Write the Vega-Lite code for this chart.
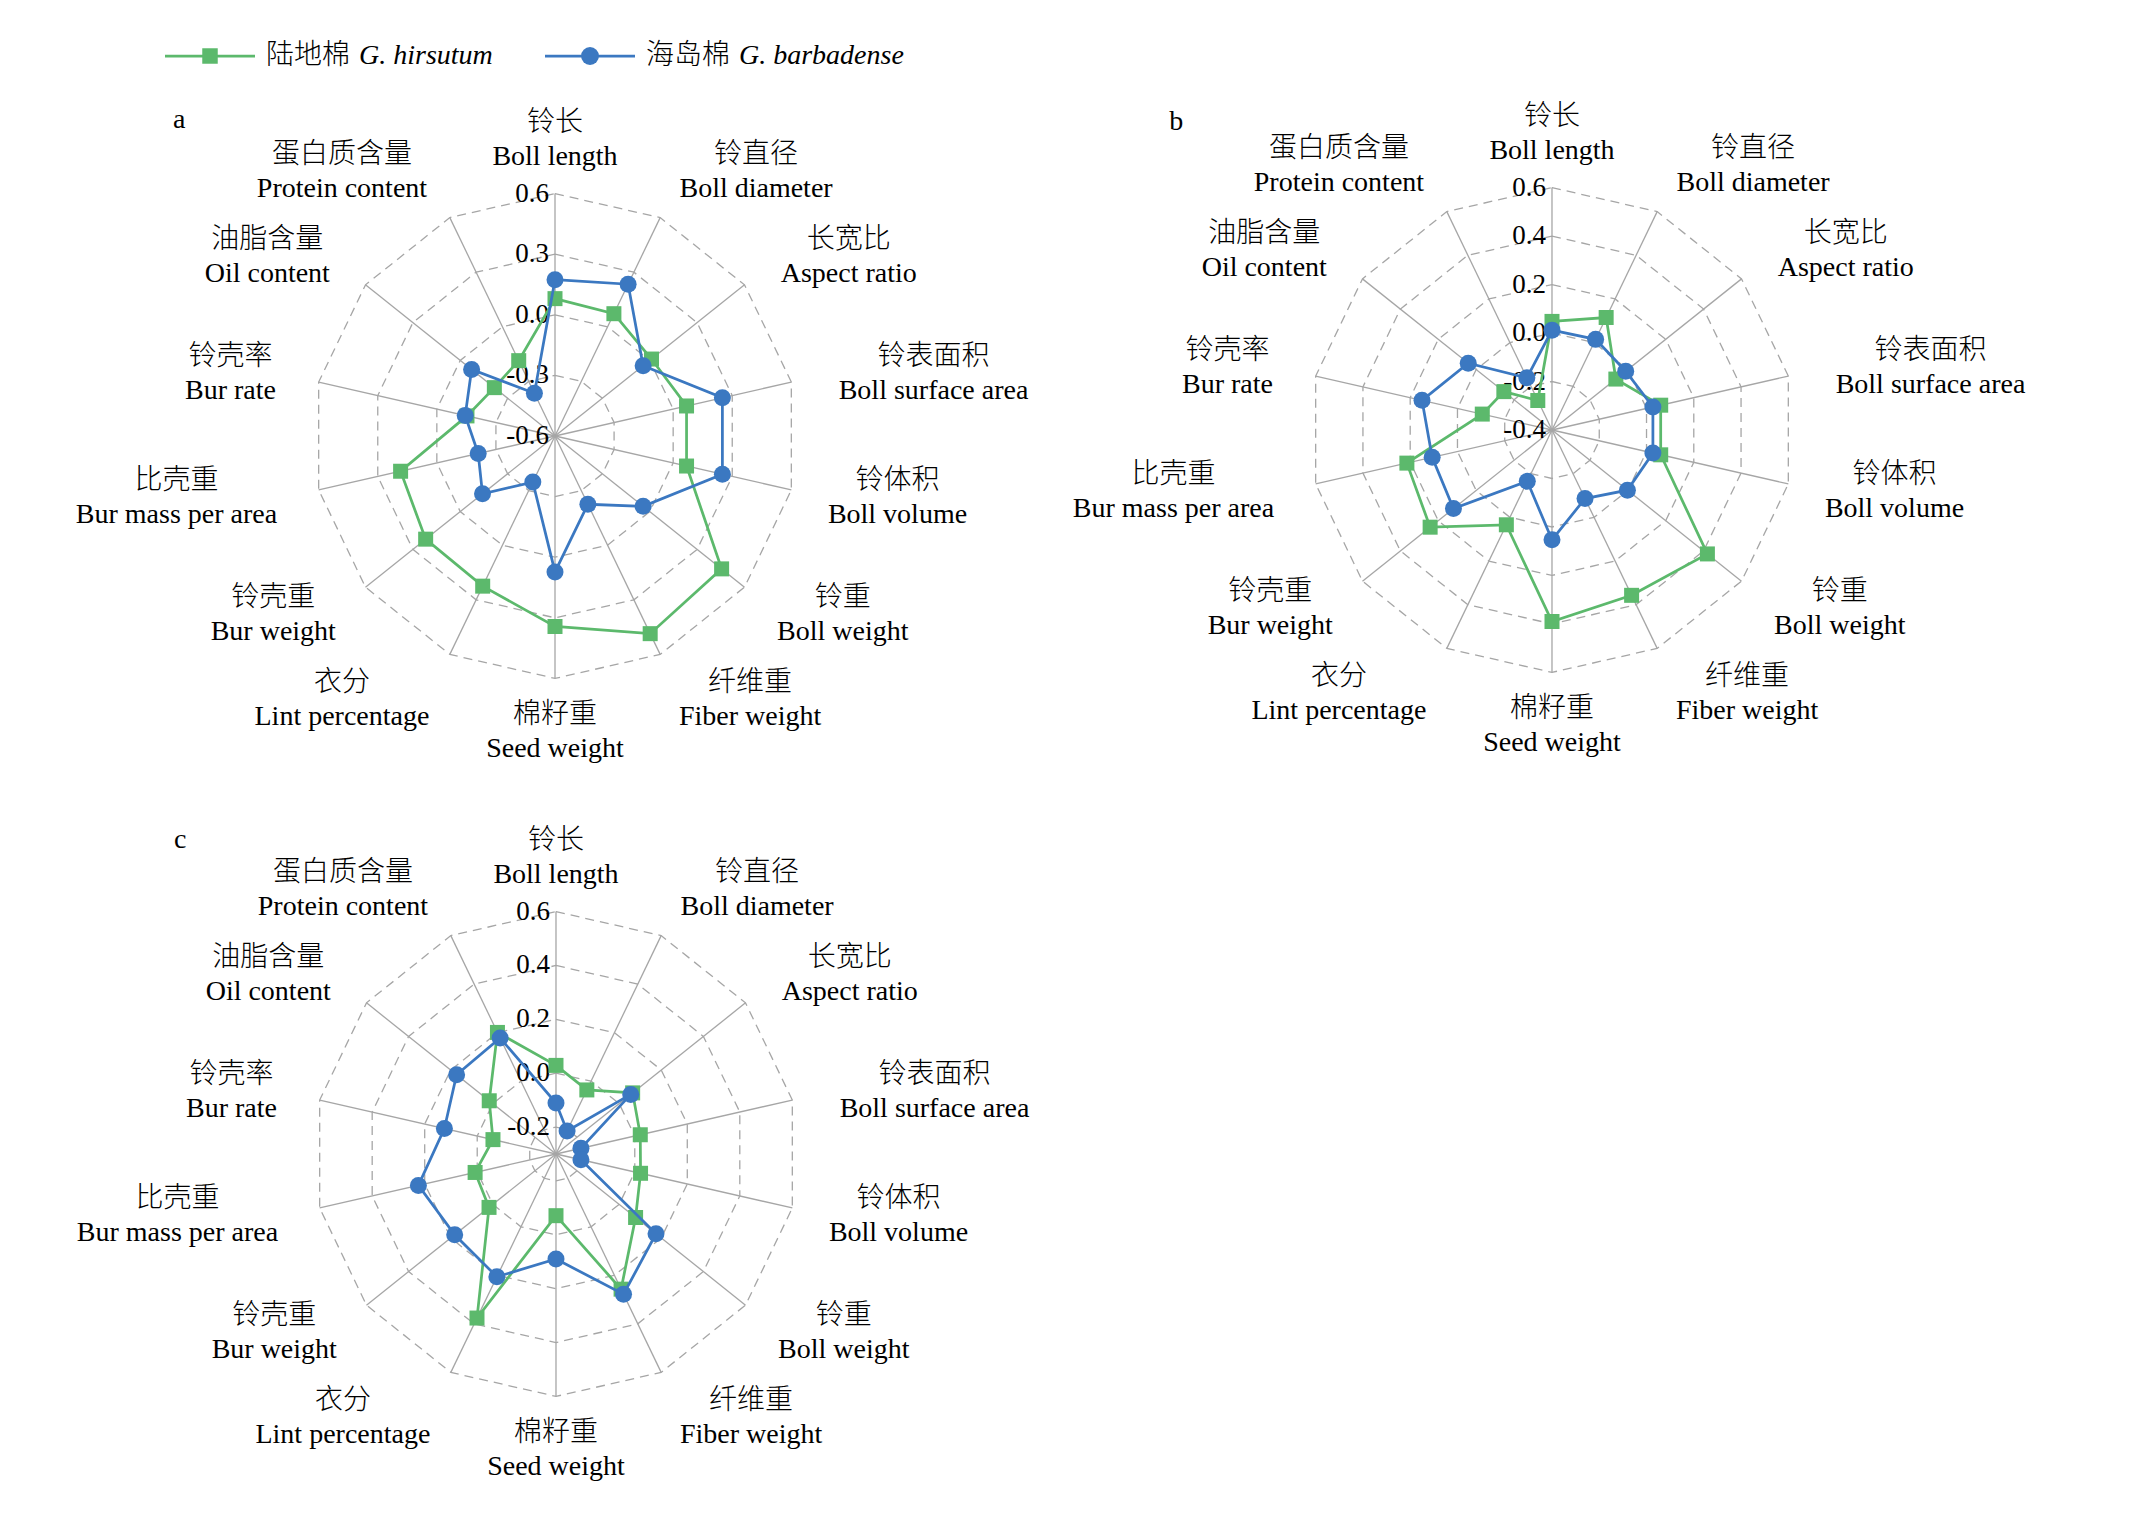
{
  "$schema": "https://vega.github.io/schema/vega-lite/v6.json",
  "padding": {"left": 55, "top": 36, "right": 89, "bottom": 4},
  "background": "white",
  "config": {"view": {"stroke": null}},
  "spacing": 0,
  "datasets": {
    "axes": [
      {"i": 0, "cn": "铃长", "en": "Boll length"},
      {"i": 1, "cn": "铃直径", "en": "Boll diameter"},
      {"i": 2, "cn": "长宽比", "en": "Aspect ratio"},
      {"i": 3, "cn": "铃表面积", "en": "Boll surface area"},
      {"i": 4, "cn": "铃体积", "en": "Boll volume"},
      {"i": 5, "cn": "铃重", "en": "Boll weight"},
      {"i": 6, "cn": "纤维重", "en": "Fiber weight"},
      {"i": 7, "cn": "棉籽重", "en": "Seed weight"},
      {"i": 8, "cn": "衣分", "en": "Lint percentage"},
      {"i": 9, "cn": "铃壳重", "en": "Bur weight"},
      {"i": 10, "cn": "比壳重", "en": "Bur mass per area"},
      {"i": 11, "cn": "铃壳率", "en": "Bur rate"},
      {"i": 12, "cn": "油脂含量", "en": "Oil content"},
      {"i": 13, "cn": "蛋白质含量", "en": "Protein content"}
    ],
    "panels": [
      {"panel": "a", "lo": -0.6, "hi": 0.6, "letter": "a"},
      {"panel": "b", "lo": -0.4, "hi": 0.6, "letter": "b"},
      {"panel": "c", "lo": -0.3, "hi": 0.6, "letter": "c"}
    ],
    "ticks": [
      {"panel": "a", "level": 0.6, "label": "0.6"},
      {"panel": "a", "level": 0.3, "label": "0.3"},
      {"panel": "a", "level": 0.0, "label": "0.0"},
      {"panel": "a", "level": -0.3, "label": "-0.3"},
      {"panel": "a", "level": -0.6, "label": "-0.6"},
      {"panel": "b", "level": 0.6, "label": "0.6"},
      {"panel": "b", "level": 0.4, "label": "0.4"},
      {"panel": "b", "level": 0.2, "label": "0.2"},
      {"panel": "b", "level": 0.0, "label": "0.0"},
      {"panel": "b", "level": -0.2, "label": "-0.2"},
      {"panel": "b", "level": -0.4, "label": "-0.4"},
      {"panel": "c", "level": 0.6, "label": "0.6"},
      {"panel": "c", "level": 0.4, "label": "0.4"},
      {"panel": "c", "level": 0.2, "label": "0.2"},
      {"panel": "c", "level": 0.0, "label": "0.0"},
      {"panel": "c", "level": -0.2, "label": "-0.2"}
    ],
    "legend": [
      {"series": "hirsutum", "cn": "陆地棉", "la": "G. hirsutum"},
      {"series": "barbadense", "cn": "海岛棉", "la": "G. barbadense"}
    ],
    "vals": [
      {"panel": "a", "series": "hirsutum", "i": 0, "v": 0.08},
      {"panel": "a", "series": "hirsutum", "i": 1, "v": 0.072},
      {"panel": "a", "series": "hirsutum", "i": 2, "v": 0.011},
      {"panel": "a", "series": "hirsutum", "i": 3, "v": 0.068},
      {"panel": "a", "series": "hirsutum", "i": 4, "v": 0.068},
      {"panel": "a", "series": "hirsutum", "i": 5, "v": 0.455},
      {"panel": "a", "series": "hirsutum", "i": 6, "v": 0.486},
      {"panel": "a", "series": "hirsutum", "i": 7, "v": 0.343},
      {"panel": "a", "series": "hirsutum", "i": 8, "v": 0.225},
      {"panel": "a", "series": "hirsutum", "i": 9, "v": 0.219},
      {"panel": "a", "series": "hirsutum", "i": 10, "v": 0.184},
      {"panel": "a", "series": "hirsutum", "i": 11, "v": -0.153},
      {"panel": "a", "series": "hirsutum", "i": 12, "v": -0.216},
      {"panel": "a", "series": "hirsutum", "i": 13, "v": -0.186},
      {"panel": "a", "series": "barbadense", "i": 0, "v": 0.174},
      {"panel": "a", "series": "barbadense", "i": 1, "v": 0.234},
      {"panel": "a", "series": "barbadense", "i": 2, "v": -0.042},
      {"panel": "a", "series": "barbadense", "i": 3, "v": 0.25},
      {"panel": "a", "series": "barbadense", "i": 4, "v": 0.25},
      {"panel": "a", "series": "barbadense", "i": 5, "v": -0.042},
      {"panel": "a", "series": "barbadense", "i": 6, "v": -0.225},
      {"panel": "a", "series": "barbadense", "i": 7, "v": 0.073},
      {"panel": "a", "series": "barbadense", "i": 8, "v": -0.347},
      {"panel": "a", "series": "barbadense", "i": 9, "v": -0.141},
      {"panel": "a", "series": "barbadense", "i": 10, "v": -0.21},
      {"panel": "a", "series": "barbadense", "i": 11, "v": -0.144},
      {"panel": "a", "series": "barbadense", "i": 12, "v": -0.072},
      {"panel": "a", "series": "barbadense", "i": 13, "v": -0.365},
      {"panel": "b", "series": "hirsutum", "i": 0, "v": 0.048},
      {"panel": "b", "series": "hirsutum", "i": 1, "v": 0.115},
      {"panel": "b", "series": "hirsutum", "i": 2, "v": -0.063},
      {"panel": "b", "series": "hirsutum", "i": 3, "v": 0.06},
      {"panel": "b", "series": "hirsutum", "i": 4, "v": 0.06},
      {"panel": "b", "series": "hirsutum", "i": 5, "v": 0.42},
      {"panel": "b", "series": "hirsutum", "i": 6, "v": 0.357},
      {"panel": "b", "series": "hirsutum", "i": 7, "v": 0.39},
      {"panel": "b", "series": "hirsutum", "i": 8, "v": 0.034},
      {"panel": "b", "series": "hirsutum", "i": 9, "v": 0.243},
      {"panel": "b", "series": "hirsutum", "i": 10, "v": 0.214},
      {"panel": "b", "series": "hirsutum", "i": 11, "v": -0.105},
      {"panel": "b", "series": "hirsutum", "i": 12, "v": -0.146},
      {"panel": "b", "series": "hirsutum", "i": 13, "v": -0.265},
      {"panel": "b", "series": "barbadense", "i": 0, "v": 0.012},
      {"panel": "b", "series": "barbadense", "i": 1, "v": 0.015},
      {"panel": "b", "series": "barbadense", "i": 2, "v": -0.011},
      {"panel": "b", "series": "barbadense", "i": 3, "v": 0.027},
      {"panel": "b", "series": "barbadense", "i": 4, "v": 0.027},
      {"panel": "b", "series": "barbadense", "i": 5, "v": -0.002},
      {"panel": "b", "series": "barbadense", "i": 6, "v": -0.086},
      {"panel": "b", "series": "barbadense", "i": 7, "v": 0.053},
      {"panel": "b", "series": "barbadense", "i": 8, "v": -0.165},
      {"panel": "b", "series": "barbadense", "i": 9, "v": 0.12},
      {"panel": "b", "series": "barbadense", "i": 10, "v": 0.107},
      {"panel": "b", "series": "barbadense", "i": 11, "v": 0.15},
      {"panel": "b", "series": "barbadense", "i": 12, "v": 0.042},
      {"panel": "b", "series": "barbadense", "i": 13, "v": -0.161},
      {"panel": "c", "series": "hirsutum", "i": 0, "v": 0.029},
      {"panel": "c", "series": "hirsutum", "i": 1, "v": -0.036},
      {"panel": "c", "series": "hirsutum", "i": 2, "v": 0.064},
      {"panel": "c", "series": "hirsutum", "i": 3, "v": 0.021},
      {"panel": "c", "series": "hirsutum", "i": 4, "v": 0.022},
      {"panel": "c", "series": "hirsutum", "i": 5, "v": 0.078},
      {"panel": "c", "series": "hirsutum", "i": 6, "v": 0.257},
      {"panel": "c", "series": "hirsutum", "i": 7, "v": -0.071},
      {"panel": "c", "series": "hirsutum", "i": 8, "v": 0.376},
      {"panel": "c", "series": "hirsutum", "i": 9, "v": 0.018},
      {"panel": "c", "series": "hirsutum", "i": 10, "v": 0.008},
      {"panel": "c", "series": "hirsutum", "i": 11, "v": -0.06},
      {"panel": "c", "series": "hirsutum", "i": 12, "v": 0.017},
      {"panel": "c", "series": "hirsutum", "i": 13, "v": 0.201},
      {"panel": "c", "series": "barbadense", "i": 0, "v": -0.111},
      {"panel": "c", "series": "barbadense", "i": 1, "v": -0.205},
      {"panel": "c", "series": "barbadense", "i": 2, "v": 0.055},
      {"panel": "c", "series": "barbadense", "i": 3, "v": -0.205},
      {"panel": "c", "series": "barbadense", "i": 4, "v": -0.205},
      {"panel": "c", "series": "barbadense", "i": 5, "v": 0.175},
      {"panel": "c", "series": "barbadense", "i": 6, "v": 0.278},
      {"panel": "c", "series": "barbadense", "i": 7, "v": 0.09},
      {"panel": "c", "series": "barbadense", "i": 8, "v": 0.206},
      {"panel": "c", "series": "barbadense", "i": 9, "v": 0.181},
      {"panel": "c", "series": "barbadense", "i": 10, "v": 0.224},
      {"panel": "c", "series": "barbadense", "i": 11, "v": 0.125},
      {"panel": "c", "series": "barbadense", "i": 12, "v": 0.172},
      {"panel": "c", "series": "barbadense", "i": 13, "v": 0.178}
    ]
  },
  "vconcat": [
    {
      "width": 1000, "height": 40,
      "data": {"name": "legend"},
      "encoding": {"x": {"field": "series", "type": "nominal", "scale": {"type": "point", "domain": ["hirsutum", "barbadense"], "range": [155, 535], "padding": 0}, "axis": null}},
      "layer": [
        {"transform": [{"filter": "datum.series === 'hirsutum'"}], "mark": {"type": "point", "shape": "M-1,0L1,0", "size": 8100, "filled": false, "strokeWidth": 2.75, "color": "#5cb96c", "opacity": 1}, "encoding": {}},
        {"transform": [{"filter": "datum.series === 'hirsutum'"}], "mark": {"type": "point", "shape": "square", "size": 240, "filled": true, "color": "#5cb96c", "opacity": 1}, "encoding": {}},
        {"transform": [{"filter": "datum.series === 'barbadense'"}], "mark": {"type": "point", "shape": "M-1,0L1,0", "size": 8100, "filled": false, "strokeWidth": 2.75, "color": "#3b78c1", "opacity": 1}, "encoding": {}},
        {"transform": [{"filter": "datum.series === 'barbadense'"}], "mark": {"type": "point", "shape": "circle", "size": 320, "filled": true, "color": "#3b78c1", "opacity": 1}, "encoding": {}},
        {"mark": {"type": "text", "align": "left", "baseline": "middle", "dx": 56, "fontSize": 28, "fontWeight": 300, "font": "Noto Sans CJK SC", "color": "#000000"}, "encoding": {"text": {"field": "cn", "type": "nominal"}}},
        {"mark": {"type": "text", "align": "left", "baseline": "middle", "dx": 149, "fontSize": 28, "font": "Liberation Serif", "fontStyle": "italic", "color": "#000000"}, "encoding": {"text": {"field": "la", "type": "nominal"}}}
      ]
    },
    {
      "spacing": 0,
      "bounds": "flush",
      "hconcat": [
        {
          "width": 1000, "height": 720,
          "encoding": {
            "x": {"field": "x", "type": "quantitative", "scale": {"domain": [-2.0627, 2.0627], "nice": false, "zero": false}, "axis": null},
            "y": {"field": "y", "type": "quantitative", "scale": {"domain": [-1.4851, 1.4851], "nice": false, "zero": false}, "axis": null}
          },
          "layer": [
            {"data": {"name": "ticks"},
             "transform": [{"filter": "datum.panel === 'a'"}, {"lookup": "panel", "from": {"data": {"name": "panels"}, "key": "panel", "fields": ["lo", "hi"]}}, {"filter": "datum.level > datum.lo + 0.0001"},
               {"calculate": "[0,1,2,3,4,5,6,7,8,9,10,11,12,13]", "as": "k"}, {"flatten": ["k"]},
               {"calculate": "(datum.level - datum.lo) / (datum.hi - datum.lo)", "as": "r"},
               {"calculate": "datum.r * sin(datum.k * 2 * PI / 14)", "as": "x"},
               {"calculate": "datum.r * cos(datum.k * 2 * PI / 14)", "as": "y"}],
             "mark": {"type": "line", "interpolate": "linear-closed", "color": "#a6a6a6", "strokeWidth": 1.3, "strokeDash": [9, 6]},
             "encoding": {"detail": {"field": "level", "type": "nominal"}, "order": {"field": "k", "type": "quantitative"}}},
            {"data": {"name": "axes"},
             "transform": [{"calculate": "0", "as": "x"}, {"calculate": "0", "as": "y"}, {"calculate": "sin(datum.i * 2 * PI / 14)", "as": "x2"}, {"calculate": "cos(datum.i * 2 * PI / 14)", "as": "y2"}],
             "mark": {"type": "rule", "color": "#a6a6a6", "strokeWidth": 1.3},
             "encoding": {"x2": {"field": "x2"}, "y2": {"field": "y2"}}},
            {"data": {"name": "ticks"},
             "transform": [{"filter": "datum.panel === 'a'"}, {"lookup": "panel", "from": {"data": {"name": "panels"}, "key": "panel", "fields": ["lo", "hi"]}}, {"calculate": "0", "as": "x"}, {"calculate": "(datum.level - datum.lo) / (datum.hi - datum.lo)", "as": "y"}],
             "mark": {"type": "text", "align": "right", "baseline": "middle", "dx": -6, "fontSize": 27, "font": "Liberation Serif", "color": "#000000"},
             "encoding": {"text": {"field": "label", "type": "nominal"}}},
            {"data": {"name": "vals"},
             "transform": [{"filter": "datum.panel === 'a'"}, {"lookup": "panel", "from": {"data": {"name": "panels"}, "key": "panel", "fields": ["lo", "hi"]}}, {"calculate": "(datum.v - datum.lo) / (datum.hi - datum.lo)", "as": "r"}, {"calculate": "datum.r * sin(datum.i * 2 * PI / 14)", "as": "x"}, {"calculate": "datum.r * cos(datum.i * 2 * PI / 14)", "as": "y"}],
             "layer": [
               {"transform": [{"filter": "datum.series === 'hirsutum'"}], "mark": {"type": "line", "interpolate": "linear-closed", "color": "#5cb96c", "strokeWidth": 2.75}, "encoding": {"order": {"field": "i", "type": "quantitative"}}},
               {"transform": [{"filter": "datum.series === 'hirsutum'"}], "mark": {"type": "point", "shape": "square", "filled": true, "opacity": 1, "size": 225, "color": "#5cb96c"}, "encoding": {}},
               {"transform": [{"filter": "datum.series === 'barbadense'"}], "mark": {"type": "line", "interpolate": "linear-closed", "color": "#3b78c1", "strokeWidth": 2.75}, "encoding": {"order": {"field": "i", "type": "quantitative"}}},
               {"transform": [{"filter": "datum.series === 'barbadense'"}], "mark": {"type": "point", "shape": "circle", "filled": true, "opacity": 1, "size": 289, "color": "#3b78c1"}, "encoding": {}}
             ]},
            {"data": {"name": "axes"},
             "transform": [
               {"calculate": "sin(datum.i * 2 * PI / 14)", "as": "s"},
               {"calculate": "cos(datum.i * 2 * PI / 14)", "as": "c"},
               {"calculate": "max(length(datum.en) * 12, length(datum.cn) * 28) / 242.4", "as": "w"},
               {"calculate": "abs(datum.s) < 0.1 ? 0 : (datum.s > 0 ? 1 : -1) * (1.17 * abs(datum.s) + datum.w / 2)", "as": "x"},
               {"calculate": "datum.c * (1.12 + 0.1 * abs(datum.c))", "as": "y"}],
             "layer": [
               {"mark": {"type": "text", "align": "center", "baseline": "middle", "dy": -17, "fontSize": 28, "fontWeight": 300, "font": "Noto Sans CJK SC", "color": "#000000"}, "encoding": {"text": {"field": "cn", "type": "nominal"}}},
               {"mark": {"type": "text", "align": "center", "baseline": "middle", "dy": 17, "fontSize": 28, "font": "Liberation Serif", "color": "#000000"}, "encoding": {"text": {"field": "en", "type": "nominal"}}}
             ]},
            {"data": {"name": "panels"},
             "transform": [{"filter": "datum.panel === 'a'"}, {"calculate": "-1.55", "as": "x"}, {"calculate": "1.305", "as": "y"}],
             "mark": {"type": "text", "align": "center", "baseline": "middle", "fontSize": 28, "font": "Liberation Serif", "color": "#000000"},
             "encoding": {"text": {"field": "letter", "type": "nominal"}}}
          ]
        },
        {
          "width": 1000, "height": 720,
          "encoding": {
            "x": {"field": "x", "type": "quantitative", "scale": {"domain": [-2.0503, 2.0751], "nice": false, "zero": false}, "axis": null},
            "y": {"field": "y", "type": "quantitative", "scale": {"domain": [-1.5099, 1.4604], "nice": false, "zero": false}, "axis": null}
          },
          "layer": [
            {"data": {"name": "ticks"},
             "transform": [{"filter": "datum.panel === 'b'"}, {"lookup": "panel", "from": {"data": {"name": "panels"}, "key": "panel", "fields": ["lo", "hi"]}}, {"filter": "datum.level > datum.lo + 0.0001"},
               {"calculate": "[0,1,2,3,4,5,6,7,8,9,10,11,12,13]", "as": "k"}, {"flatten": ["k"]},
               {"calculate": "(datum.level - datum.lo) / (datum.hi - datum.lo)", "as": "r"},
               {"calculate": "datum.r * sin(datum.k * 2 * PI / 14)", "as": "x"},
               {"calculate": "datum.r * cos(datum.k * 2 * PI / 14)", "as": "y"}],
             "mark": {"type": "line", "interpolate": "linear-closed", "color": "#a6a6a6", "strokeWidth": 1.3, "strokeDash": [9, 6]},
             "encoding": {"detail": {"field": "level", "type": "nominal"}, "order": {"field": "k", "type": "quantitative"}}},
            {"data": {"name": "axes"},
             "transform": [{"calculate": "0", "as": "x"}, {"calculate": "0", "as": "y"}, {"calculate": "sin(datum.i * 2 * PI / 14)", "as": "x2"}, {"calculate": "cos(datum.i * 2 * PI / 14)", "as": "y2"}],
             "mark": {"type": "rule", "color": "#a6a6a6", "strokeWidth": 1.3},
             "encoding": {"x2": {"field": "x2"}, "y2": {"field": "y2"}}},
            {"data": {"name": "ticks"},
             "transform": [{"filter": "datum.panel === 'b'"}, {"lookup": "panel", "from": {"data": {"name": "panels"}, "key": "panel", "fields": ["lo", "hi"]}}, {"calculate": "0", "as": "x"}, {"calculate": "(datum.level - datum.lo) / (datum.hi - datum.lo)", "as": "y"}],
             "mark": {"type": "text", "align": "right", "baseline": "middle", "dx": -6, "fontSize": 27, "font": "Liberation Serif", "color": "#000000"},
             "encoding": {"text": {"field": "label", "type": "nominal"}}},
            {"data": {"name": "vals"},
             "transform": [{"filter": "datum.panel === 'b'"}, {"lookup": "panel", "from": {"data": {"name": "panels"}, "key": "panel", "fields": ["lo", "hi"]}}, {"calculate": "(datum.v - datum.lo) / (datum.hi - datum.lo)", "as": "r"}, {"calculate": "datum.r * sin(datum.i * 2 * PI / 14)", "as": "x"}, {"calculate": "datum.r * cos(datum.i * 2 * PI / 14)", "as": "y"}],
             "layer": [
               {"transform": [{"filter": "datum.series === 'hirsutum'"}], "mark": {"type": "line", "interpolate": "linear-closed", "color": "#5cb96c", "strokeWidth": 2.75}, "encoding": {"order": {"field": "i", "type": "quantitative"}}},
               {"transform": [{"filter": "datum.series === 'hirsutum'"}], "mark": {"type": "point", "shape": "square", "filled": true, "opacity": 1, "size": 225, "color": "#5cb96c"}, "encoding": {}},
               {"transform": [{"filter": "datum.series === 'barbadense'"}], "mark": {"type": "line", "interpolate": "linear-closed", "color": "#3b78c1", "strokeWidth": 2.75}, "encoding": {"order": {"field": "i", "type": "quantitative"}}},
               {"transform": [{"filter": "datum.series === 'barbadense'"}], "mark": {"type": "point", "shape": "circle", "filled": true, "opacity": 1, "size": 289, "color": "#3b78c1"}, "encoding": {}}
             ]},
            {"data": {"name": "axes"},
             "transform": [
               {"calculate": "sin(datum.i * 2 * PI / 14)", "as": "s"},
               {"calculate": "cos(datum.i * 2 * PI / 14)", "as": "c"},
               {"calculate": "max(length(datum.en) * 12, length(datum.cn) * 28) / 242.4", "as": "w"},
               {"calculate": "abs(datum.s) < 0.1 ? 0 : (datum.s > 0 ? 1 : -1) * (1.17 * abs(datum.s) + datum.w / 2)", "as": "x"},
               {"calculate": "datum.c * (1.12 + 0.1 * abs(datum.c))", "as": "y"}],
             "layer": [
               {"mark": {"type": "text", "align": "center", "baseline": "middle", "dy": -17, "fontSize": 28, "fontWeight": 300, "font": "Noto Sans CJK SC", "color": "#000000"}, "encoding": {"text": {"field": "cn", "type": "nominal"}}},
               {"mark": {"type": "text", "align": "center", "baseline": "middle", "dy": 17, "fontSize": 28, "font": "Liberation Serif", "color": "#000000"}, "encoding": {"text": {"field": "en", "type": "nominal"}}}
             ]},
            {"data": {"name": "panels"},
             "transform": [{"filter": "datum.panel === 'b'"}, {"calculate": "-1.55", "as": "x"}, {"calculate": "1.272", "as": "y"}],
             "mark": {"type": "text", "align": "center", "baseline": "middle", "fontSize": 28, "font": "Liberation Serif", "color": "#000000"},
             "encoding": {"text": {"field": "letter", "type": "nominal"}}}
          ]
        }
      ]
    },
    {
      "width": 1000, "height": 720,
      "encoding": {
        "x": {"field": "x", "type": "quantitative", "scale": {"domain": [-2.0668, 2.0586], "nice": false, "zero": false}, "axis": null},
        "y": {"field": "y", "type": "quantitative", "scale": {"domain": [-1.4934, 1.4769], "nice": false, "zero": false}, "axis": null}
      },
      "layer": [
        {"data": {"name": "ticks"},
         "transform": [{"filter": "datum.panel === 'c'"}, {"lookup": "panel", "from": {"data": {"name": "panels"}, "key": "panel", "fields": ["lo", "hi"]}}, {"filter": "datum.level > datum.lo + 0.0001"},
           {"calculate": "[0,1,2,3,4,5,6,7,8,9,10,11,12,13]", "as": "k"}, {"flatten": ["k"]},
           {"calculate": "(datum.level - datum.lo) / (datum.hi - datum.lo)", "as": "r"},
           {"calculate": "datum.r * sin(datum.k * 2 * PI / 14)", "as": "x"},
           {"calculate": "datum.r * cos(datum.k * 2 * PI / 14)", "as": "y"}],
         "mark": {"type": "line", "interpolate": "linear-closed", "color": "#a6a6a6", "strokeWidth": 1.3, "strokeDash": [9, 6]},
         "encoding": {"detail": {"field": "level", "type": "nominal"}, "order": {"field": "k", "type": "quantitative"}}},
        {"data": {"name": "axes"},
         "transform": [{"calculate": "0", "as": "x"}, {"calculate": "0", "as": "y"}, {"calculate": "sin(datum.i * 2 * PI / 14)", "as": "x2"}, {"calculate": "cos(datum.i * 2 * PI / 14)", "as": "y2"}],
         "mark": {"type": "rule", "color": "#a6a6a6", "strokeWidth": 1.3},
         "encoding": {"x2": {"field": "x2"}, "y2": {"field": "y2"}}},
        {"data": {"name": "ticks"},
         "transform": [{"filter": "datum.panel === 'c'"}, {"lookup": "panel", "from": {"data": {"name": "panels"}, "key": "panel", "fields": ["lo", "hi"]}}, {"calculate": "0", "as": "x"}, {"calculate": "(datum.level - datum.lo) / (datum.hi - datum.lo)", "as": "y"}],
         "mark": {"type": "text", "align": "right", "baseline": "middle", "dx": -6, "fontSize": 27, "font": "Liberation Serif", "color": "#000000"},
         "encoding": {"text": {"field": "label", "type": "nominal"}}},
        {"data": {"name": "vals"},
         "transform": [{"filter": "datum.panel === 'c'"}, {"lookup": "panel", "from": {"data": {"name": "panels"}, "key": "panel", "fields": ["lo", "hi"]}}, {"calculate": "(datum.v - datum.lo) / (datum.hi - datum.lo)", "as": "r"}, {"calculate": "datum.r * sin(datum.i * 2 * PI / 14)", "as": "x"}, {"calculate": "datum.r * cos(datum.i * 2 * PI / 14)", "as": "y"}],
         "layer": [
           {"transform": [{"filter": "datum.series === 'hirsutum'"}], "mark": {"type": "line", "interpolate": "linear-closed", "color": "#5cb96c", "strokeWidth": 2.75}, "encoding": {"order": {"field": "i", "type": "quantitative"}}},
           {"transform": [{"filter": "datum.series === 'hirsutum'"}], "mark": {"type": "point", "shape": "square", "filled": true, "opacity": 1, "size": 225, "color": "#5cb96c"}, "encoding": {}},
           {"transform": [{"filter": "datum.series === 'barbadense'"}], "mark": {"type": "line", "interpolate": "linear-closed", "color": "#3b78c1", "strokeWidth": 2.75}, "encoding": {"order": {"field": "i", "type": "quantitative"}}},
           {"transform": [{"filter": "datum.series === 'barbadense'"}], "mark": {"type": "point", "shape": "circle", "filled": true, "opacity": 1, "size": 289, "color": "#3b78c1"}, "encoding": {}}
         ]},
        {"data": {"name": "axes"},
         "transform": [
           {"calculate": "sin(datum.i * 2 * PI / 14)", "as": "s"},
           {"calculate": "cos(datum.i * 2 * PI / 14)", "as": "c"},
           {"calculate": "max(length(datum.en) * 12, length(datum.cn) * 28) / 242.4", "as": "w"},
           {"calculate": "abs(datum.s) < 0.1 ? 0 : (datum.s > 0 ? 1 : -1) * (1.17 * abs(datum.s) + datum.w / 2)", "as": "x"},
           {"calculate": "datum.c * (1.12 + 0.1 * abs(datum.c))", "as": "y"}],
         "layer": [
           {"mark": {"type": "text", "align": "center", "baseline": "middle", "dy": -17, "fontSize": 28, "fontWeight": 300, "font": "Noto Sans CJK SC", "color": "#000000"}, "encoding": {"text": {"field": "cn", "type": "nominal"}}},
           {"mark": {"type": "text", "align": "center", "baseline": "middle", "dy": 17, "fontSize": 28, "font": "Liberation Serif", "color": "#000000"}, "encoding": {"text": {"field": "en", "type": "nominal"}}}
         ]},
        {"data": {"name": "panels"},
         "transform": [{"filter": "datum.panel === 'c'"}, {"calculate": "-1.55", "as": "x"}, {"calculate": "1.295", "as": "y"}],
         "mark": {"type": "text", "align": "center", "baseline": "middle", "fontSize": 28, "font": "Liberation Serif", "color": "#000000"},
         "encoding": {"text": {"field": "letter", "type": "nominal"}}}
      ]
    }
  ]
}
